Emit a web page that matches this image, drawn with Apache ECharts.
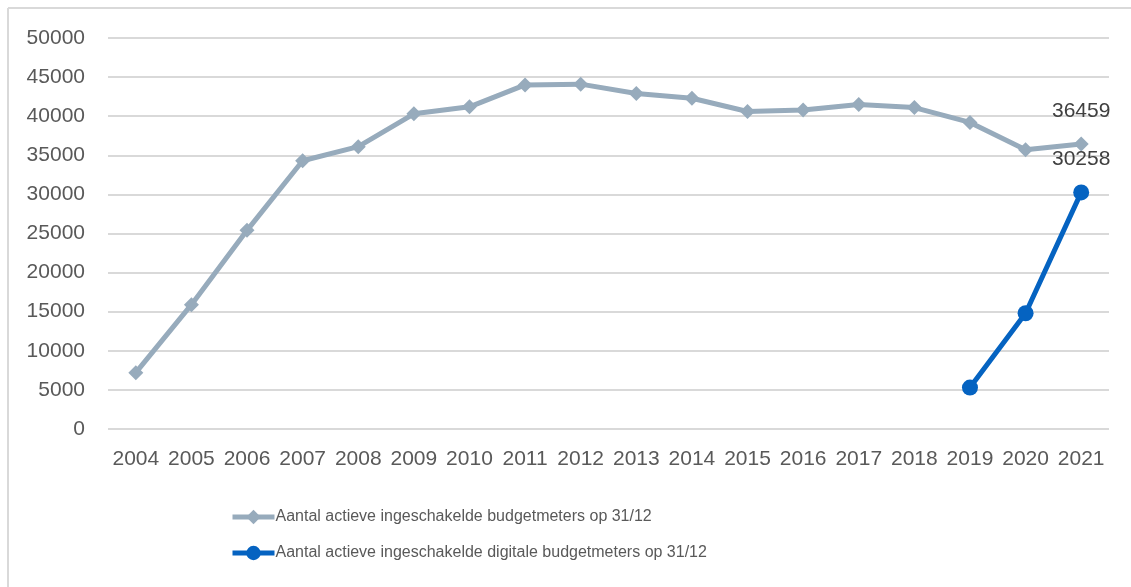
<!DOCTYPE html>
<html>
<head>
<meta charset="utf-8">
<script src="https://cdn.jsdelivr.net/npm/echarts@6/dist/echarts.min.js"></script>
<style>
html,body{margin:0;padding:0;background:#fff;}
#chart{width:1131px;height:587px;}
</style>
</head>
<body>
<div id="chart"></div>
<script>
const years = ["2004","2005","2006","2007","2008","2009","2010","2011","2012","2013","2014","2015","2016","2017","2018","2019","2020","2021"];
const totalMeters = [7200,15900,25400,34300,36100,40300,41200,44000,44100,42900,42300,40600,40800,41500,41100,39200,35700,36459];
const digitalMeters = [null,null,null,null,null,null,null,null,null,null,null,null,null,null,null,5300,14800,30258];
const seriesNames = ["Aantal actieve ingeschakelde budgetmeters op 31/12","Aantal actieve ingeschakelde digitale budgetmeters op 31/12"];
const labelledIndex = years.length - 1;

const font = "'Liberation Sans', Arial, sans-serif";
const chart = echarts.init(document.getElementById('chart'));
function lastLabel(){
  return {
    show: true, position: 'top', distance: 15,
    color: '#404040', fontSize: 21, fontFamily: font,
    formatter: p => p.dataIndex === labelledIndex ? String(p.value) : ''
  };
}
chart.setOption({
  animation: false,
  backgroundColor: '#fff',
  grid: {left: 108, right: 22, top: 38, bottom: 158},
  graphic: [
    {type:'line', shape:{x1:8,y1:8,x2:1131,y2:8}, style:{stroke:'#d9d9d9', lineWidth:2}},
    {type:'line', shape:{x1:8,y1:8,x2:8,y2:587}, style:{stroke:'#d9d9d9', lineWidth:2}}
  ],
  xAxis: {
    type: 'category', data: years, boundaryGap: true,
    axisLine: {show: false}, axisTick: {show: false},
    axisLabel: {color: '#595959', fontSize: 21, fontFamily: font, margin: 20, interval: 0}
  },
  yAxis: {
    type: 'value', min: 0, max: 50000, interval: 5000,
    axisLine: {show: false}, axisTick: {show: false},
    axisLabel: {color: '#595959', fontSize: 21, fontFamily: font, margin: 23, formatter: v => String(v)},
    splitLine: {lineStyle: {color: '#d9d9d9', width: 2}}
  },
  legend: {
    orient: 'vertical', left: 225, top: 504, itemGap: 20,
    itemWidth: 42, itemHeight: 18,
    lineStyle: {width: 5},
    textStyle: {color: '#595959', fontSize: 16, fontFamily: font, padding:[0,0,0,-4]},
    data: seriesNames
  },
  series: [
    {
      name: seriesNames[0], type: 'line', data: totalMeters,
      symbol: 'diamond', symbolSize: 15,
      lineStyle: {color: '#97abbc', width: 5},
      itemStyle: {color: '#97abbc'},
      label: lastLabel()
    },
    {
      name: seriesNames[1], type: 'line', data: digitalMeters,
      symbol: 'circle', symbolSize: 16,
      lineStyle: {color: '#0563c1', width: 5},
      itemStyle: {color: '#0563c1'},
      label: lastLabel()
    }
  ]
});
</script>
</body>
</html>
